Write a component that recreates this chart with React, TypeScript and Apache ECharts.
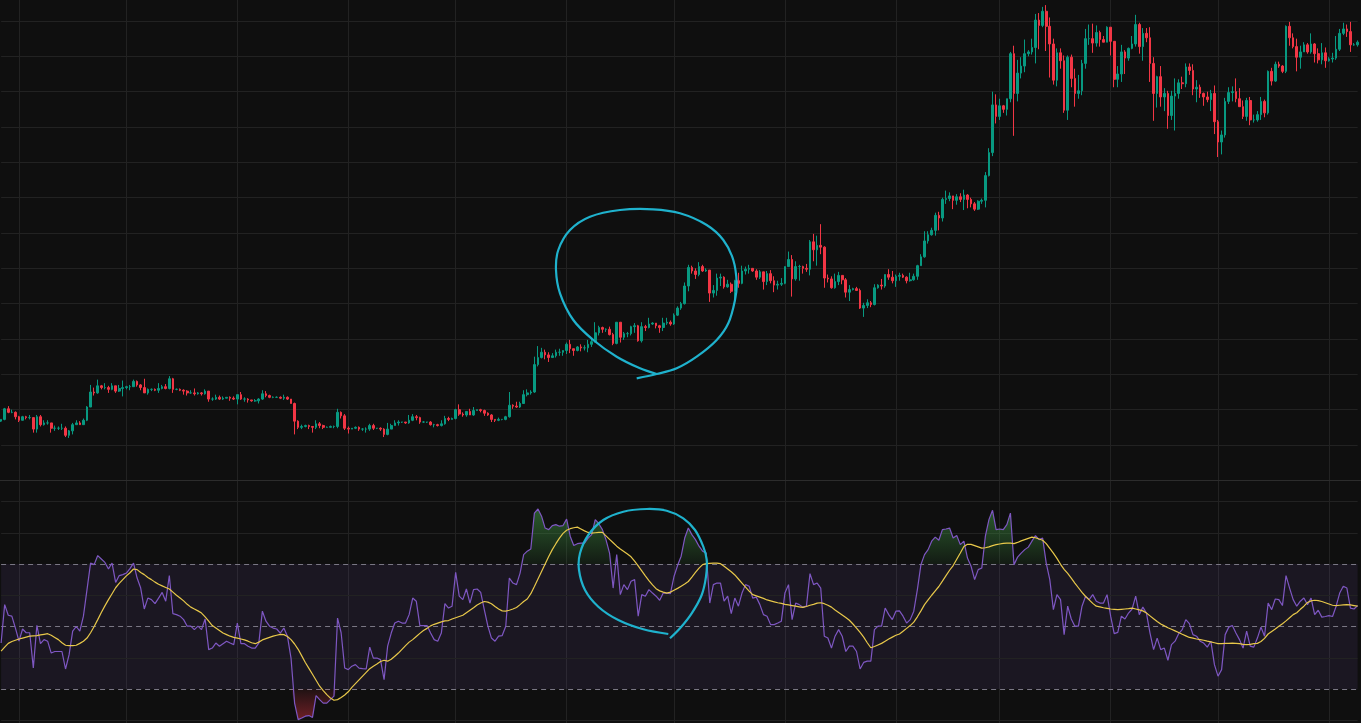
import React, { useEffect, useRef } from "react";
import * as echarts from "echarts";

// ---- data (BTC daily, thousands USD) ----
const startDate = "2023-05-27";
const firstOpen = 26.7;

const closes = [
  26.9, 28.1, 27.7, 27.7, 27.2, 26.8, 27.2, 27.1, 27.1, 25.8,
  27.2, 26.3, 26.5, 26.5, 25.9, 25.9, 25.9, 25.9, 25.1, 25.6,
  26.3, 26.5, 26.3, 26.8, 28.3, 30.0, 29.9, 30.7, 30.5, 30.5,
  30.3, 30.7, 30.1, 30.4, 30.5, 30.6, 30.6, 31.2, 30.8, 30.5,
  29.9, 30.3, 30.3, 30.2, 30.4, 30.6, 30.4, 31.5, 30.3, 30.3,
  30.2, 30.1, 29.9, 29.9, 29.8, 29.9, 29.8, 30.1, 29.2, 29.2,
  29.4, 29.2, 29.3, 29.4, 29.3, 29.2, 29.7, 29.2, 29.2, 29.1,
  29.0, 29.0, 29.2, 29.8, 29.6, 29.4, 29.4, 29.4, 29.3, 29.4,
  29.2, 28.7, 26.7, 26.0, 26.1, 26.2, 26.1, 26.0, 26.4, 26.2,
  26.0, 26.0, 26.1, 26.1, 27.7, 27.3, 25.9, 25.8, 25.9, 26.0,
  25.8, 25.8, 25.8, 26.2, 25.9, 25.9, 25.8, 25.2, 25.8, 26.2,
  26.5, 26.6, 26.6, 26.5, 26.8, 27.2, 27.1, 26.6, 26.6, 26.6,
  26.3, 26.3, 26.2, 26.4, 27.0, 26.9, 27.0, 28.0, 27.5, 27.4,
  27.8, 27.4, 27.9, 28.0, 27.9, 27.6, 27.4, 26.9, 26.8, 26.9,
  26.9, 27.2, 28.5, 28.4, 28.3, 28.7, 29.7, 29.9, 30.0, 33.1,
  33.9, 34.5, 34.2, 33.9, 34.1, 34.5, 34.5, 34.7, 35.4, 34.9,
  34.7, 35.1, 35.0, 35.0, 35.4, 35.7, 36.7, 37.3, 37.1, 37.1,
  36.5, 35.5, 37.9, 36.2, 36.6, 36.6, 37.4, 37.5, 35.8, 37.4,
  37.3, 37.7, 37.8, 37.5, 37.3, 37.8, 37.9, 37.7, 38.7, 39.5,
  40.0, 42.0, 44.1, 43.7, 43.3, 44.2, 43.7, 43.8, 41.2, 41.5,
  42.9, 43.0, 41.9, 42.2, 41.4, 42.6, 42.3, 43.7, 43.9, 44.0,
  43.7, 43.0, 43.6, 42.5, 43.4, 42.6, 42.1, 42.2, 42.3, 44.2,
  45.0, 42.8, 44.2, 44.2, 44.0, 43.9, 47.0, 46.1, 46.6, 46.4,
  42.9, 42.8, 41.8, 42.5, 43.2, 42.7, 41.3, 41.6, 41.7, 41.5,
  39.5, 39.8, 40.1, 39.9, 41.8, 42.1, 42.0, 43.3, 43.0, 42.6,
  43.1, 43.2, 43.0, 42.6, 42.7, 43.1, 44.3, 45.3, 47.1, 47.8,
  48.3, 50.0, 49.7, 51.8, 51.9, 52.2, 51.7, 52.1, 51.8, 52.3,
  51.8, 51.3, 50.7, 51.6, 51.7, 54.5, 57.1, 62.5, 61.2, 62.4,
  62.0, 63.2, 68.3, 63.8, 66.1, 66.9, 68.3, 68.5, 69.0, 72.1,
  71.5, 73.1, 71.4, 69.4, 65.3, 68.4, 67.5, 61.9, 67.9, 65.5,
  63.8, 64.1, 67.2, 70.0, 70.0, 69.5, 70.7, 69.9, 69.6, 71.3,
  69.7, 65.4, 66.0, 68.5, 67.8, 68.9, 69.4, 71.6, 69.1, 70.6,
  70.1, 67.2, 63.8, 65.7, 63.4, 63.8, 61.3, 63.5, 63.8, 65.0,
  64.9, 66.8, 66.4, 64.3, 64.5, 63.8, 63.4, 63.1, 63.8, 60.6,
  58.3, 59.1, 62.9, 63.9, 64.0, 63.2, 62.3, 61.2, 63.0, 60.8,
  60.8, 61.4, 62.9, 61.6, 66.3, 65.2, 67.1, 66.9, 66.3, 71.4,
  70.1, 69.1, 67.9, 68.5, 69.3, 68.5, 69.4, 68.3, 67.6, 68.4,
  67.5, 67.7, 67.8, 68.8, 70.6, 71.1, 70.8, 69.3, 69.3, 69.6,
];

const highs = [
  26.9, 28.2, 28.4, 28.0, 27.8, 27.3, 27.3, 27.3, 27.4, 27.1,
  27.4, 27.4, 26.8, 26.8, 26.5, 26.2, 26.1, 26.4, 26.1, 25.7,
  26.5, 26.8, 26.7, 27.0, 28.4, 30.8, 30.5, 31.4, 30.8, 31.0,
  30.7, 31.0, 30.7, 30.8, 31.3, 30.7, 30.8, 31.4, 31.3, 30.9,
  31.5, 30.4, 30.4, 30.4, 31.0, 30.8, 30.9, 31.8, 31.6, 30.4,
  30.4, 30.3, 30.2, 30.2, 30.4, 30.0, 30.0, 30.3, 30.1, 29.4,
  29.7, 29.6, 29.5, 29.4, 29.5, 29.5, 29.7, 30.0, 29.4, 29.3,
  29.1, 29.2, 29.3, 30.2, 30.1, 29.7, 29.5, 29.5, 29.5, 29.7,
  29.5, 29.2, 28.8, 26.8, 26.3, 26.3, 26.3, 26.1, 26.8, 26.6,
  26.3, 26.1, 26.2, 26.2, 28.1, 27.8, 27.5, 26.1, 25.9, 26.1,
  26.1, 25.9, 26.0, 26.4, 26.4, 25.9, 26.0, 25.9, 26.5, 26.4,
  26.8, 26.8, 26.6, 26.6, 27.4, 27.5, 27.4, 27.2, 26.7, 26.6,
  26.7, 26.4, 26.4, 26.8, 27.3, 27.2, 27.1, 28.1, 28.6, 27.7,
  27.8, 28.1, 28.3, 28.0, 28.1, 28.0, 27.7, 27.5, 26.9, 27.1,
  26.9, 27.3, 30.0, 28.6, 28.9, 28.9, 30.2, 30.3, 30.2, 34.0,
  35.2, 35.0, 34.8, 34.5, 34.4, 34.8, 34.9, 34.7, 35.6, 35.9,
  34.9, 35.2, 35.4, 35.3, 35.9, 36.0, 37.9, 37.5, 37.4, 37.2,
  37.4, 36.7, 37.9, 37.9, 36.8, 36.8, 37.5, 37.8, 37.6, 37.9,
  37.6, 38.4, 37.9, 37.8, 37.6, 38.4, 38.4, 38.1, 38.9, 39.7,
  40.2, 42.4, 44.4, 44.3, 44.0, 44.7, 44.4, 44.0, 43.8, 42.1,
  43.4, 43.4, 43.1, 42.7, 42.4, 42.7, 43.5, 44.3, 44.2, 44.4,
  44.0, 43.9, 43.8, 43.6, 43.7, 43.8, 43.1, 42.6, 42.9, 44.2,
  45.9, 45.5, 44.8, 44.4, 44.3, 44.5, 47.2, 47.9, 47.7, 49.0,
  46.5, 43.3, 43.1, 43.4, 43.6, 43.2, 42.9, 42.1, 41.8, 41.9,
  41.7, 40.1, 40.5, 40.3, 42.2, 42.2, 42.8, 43.3, 43.9, 43.7,
  43.3, 43.5, 43.4, 43.1, 43.5, 43.4, 44.4, 45.6, 48.2, 48.2,
  48.6, 50.3, 50.4, 52.0, 52.8, 52.6, 52.2, 52.4, 52.5, 52.9,
  52.4, 52.0, 51.5, 51.7, 51.9, 54.9, 57.6, 64.0, 63.7, 63.2,
  62.5, 63.2, 68.5, 69.2, 67.6, 67.9, 69.9, 68.7, 70.0, 72.8,
  72.9, 73.6, 73.8, 72.4, 70.0, 68.9, 68.9, 68.1, 68.1, 68.2,
  66.6, 65.9, 67.6, 71.1, 71.6, 71.7, 71.5, 70.9, 70.3, 71.4,
  71.3, 69.7, 66.9, 69.3, 68.7, 69.0, 70.3, 72.7, 71.8, 71.2,
  71.2, 71.3, 67.9, 65.8, 66.9, 64.4, 64.1, 64.1, 65.5, 65.4,
  65.7, 67.2, 67.2, 67.1, 65.3, 64.8, 63.9, 64.0, 64.2, 64.7,
  60.8, 59.6, 63.3, 64.5, 64.6, 65.5, 64.4, 63.0, 63.3, 63.4,
  61.4, 61.8, 63.4, 63.1, 66.4, 66.7, 67.4, 67.4, 67.0, 71.5,
  71.9, 70.6, 70.0, 69.2, 69.6, 69.5, 70.6, 69.5, 68.9, 69.5,
  69.0, 67.9, 68.4, 70.3, 71.1, 71.8, 71.6, 71.9, 69.5, 69.8,
];

const lows = [
  26.6, 26.8, 27.6, 27.6, 26.9, 26.6, 26.8, 26.9, 26.9, 25.4,
  25.4, 26.1, 26.2, 26.3, 25.4, 25.6, 25.7, 25.7, 24.9, 24.8,
  25.2, 26.3, 26.3, 26.3, 26.7, 28.3, 29.6, 29.8, 30.3, 30.3,
  29.9, 30.2, 29.9, 30.0, 29.5, 30.3, 30.2, 30.6, 30.6, 30.2,
  29.9, 29.7, 30.1, 30.1, 29.9, 30.3, 30.3, 30.3, 29.9, 30.2,
  30.1, 29.7, 29.6, 29.8, 29.6, 29.7, 29.6, 29.7, 28.9, 29.0,
  29.1, 29.1, 29.1, 29.3, 29.0, 29.1, 28.6, 29.1, 28.9, 28.8,
  28.9, 28.9, 28.7, 29.1, 29.4, 29.3, 29.3, 29.4, 29.2, 29.1,
  29.1, 28.7, 25.2, 25.8, 25.8, 26.0, 25.8, 25.4, 25.8, 25.9,
  25.8, 26.0, 26.0, 25.9, 25.9, 27.0, 25.7, 25.3, 25.8, 25.8,
  25.6, 25.6, 25.4, 25.6, 25.7, 25.8, 25.6, 24.9, 25.1, 25.8,
  26.2, 26.2, 26.5, 26.4, 26.4, 26.7, 26.8, 26.4, 26.5, 26.5,
  26.2, 26.0, 26.1, 26.1, 26.3, 26.7, 26.9, 26.9, 27.3, 27.2,
  27.2, 27.4, 27.3, 27.9, 27.7, 27.3, 27.3, 26.6, 26.6, 26.7,
  26.8, 26.8, 27.1, 28.1, 28.2, 28.2, 28.7, 29.5, 29.7, 29.9,
  32.9, 33.8, 33.7, 33.4, 33.9, 33.9, 34.1, 34.1, 34.3, 34.4,
  34.1, 34.6, 34.6, 34.7, 34.5, 35.1, 35.6, 36.4, 36.7, 36.8,
  36.4, 35.3, 35.4, 35.6, 35.9, 36.2, 36.4, 36.7, 35.7, 35.6,
  36.9, 37.2, 37.6, 37.2, 36.7, 36.9, 37.6, 37.5, 37.6, 38.6,
  39.3, 39.9, 41.4, 43.4, 42.8, 43.1, 43.6, 43.6, 40.2, 40.7,
  40.9, 42.0, 41.7, 41.8, 41.2, 40.5, 41.8, 42.2, 43.3, 43.4,
  43.6, 42.7, 42.8, 41.6, 42.1, 42.3, 41.3, 41.6, 42.0, 42.2,
  44.2, 40.8, 42.6, 42.6, 43.4, 43.6, 43.2, 44.8, 44.3, 45.6,
  41.8, 42.4, 41.7, 41.7, 42.1, 42.2, 40.7, 40.3, 41.5, 41.5,
  39.4, 38.5, 39.5, 39.6, 39.8, 41.7, 41.6, 41.8, 42.7, 42.3,
  41.9, 42.6, 42.9, 42.3, 42.5, 42.6, 42.7, 44.3, 45.2, 46.8,
  47.7, 47.7, 48.3, 49.3, 51.3, 51.6, 50.7, 51.2, 51.5, 50.6,
  50.8, 50.9, 50.5, 50.6, 51.3, 50.9, 54.4, 56.7, 60.4, 60.8,
  61.6, 61.3, 62.8, 59.0, 62.9, 65.5, 66.2, 68.0, 68.2, 67.2,
  68.8, 71.3, 68.6, 65.6, 64.8, 64.6, 66.6, 61.6, 60.8, 64.5,
  62.3, 63.2, 63.6, 66.6, 69.3, 68.4, 69.1, 69.1, 69.6, 69.6,
  68.1, 64.5, 64.5, 65.1, 66.0, 67.5, 68.8, 69.1, 68.3, 67.5,
  69.6, 65.1, 60.7, 62.2, 62.3, 61.8, 59.8, 60.8, 59.6, 63.2,
  64.3, 64.5, 65.9, 63.6, 62.8, 63.3, 62.4, 62.8, 61.8, 59.2,
  56.6, 56.9, 58.8, 62.6, 62.9, 62.8, 62.3, 60.9, 60.7, 60.2,
  60.5, 60.6, 60.8, 61.1, 61.4, 64.7, 65.1, 66.7, 66.1, 66.1,
  69.2, 68.9, 66.3, 66.6, 68.5, 68.3, 68.3, 67.3, 67.2, 67.1,
  66.7, 67.4, 67.3, 67.6, 68.6, 70.4, 70.2, 68.5, 69.2, 69.1,
];

const rsi = [
  44.7, 57.0, 53.6, 53.3, 49.5, 45.3, 49.2, 48.0, 48.0, 36.7,
  50.4, 44.5, 45.8, 45.3, 41.5, 42.0, 42.0, 42.0, 36.4, 41.0,
  48.5, 50.0, 48.5, 53.3, 61.8, 70.3, 69.8, 72.7, 71.6, 70.5,
  68.4, 70.3, 64.1, 66.3, 66.6, 67.1, 68.5, 70.3, 65.5, 62.3,
  55.6, 59.1, 58.6, 57.3, 59.1, 60.9, 58.1, 66.3, 54.1, 53.8,
  53.3, 52.2, 50.1, 50.1, 49.0, 50.1, 49.0, 52.4, 42.6, 43.1,
  44.7, 43.7, 44.5, 45.3, 44.7, 44.2, 51.1, 44.5, 44.5, 43.7,
  43.1, 43.1, 44.7, 54.9, 51.7, 50.1, 49.5, 49.2, 47.9, 49.5,
  46.9, 39.9, 25.5, 20.2, 20.7, 21.3, 21.5, 20.9, 27.9, 26.6,
  25.5, 25.5, 26.6, 27.7, 52.7, 48.0, 36.7, 36.2, 37.3, 37.8,
  36.7, 36.5, 36.4, 43.4, 39.9, 39.9, 39.4, 33.0, 43.7, 47.9,
  51.1, 51.7, 51.1, 51.1, 53.8, 59.1, 58.1, 50.3, 50.3, 50.3,
  47.9, 45.8, 45.3, 47.9, 57.3, 55.9, 56.5, 67.3, 59.7, 58.6,
  62.0, 57.5, 61.8, 62.0, 60.9, 55.4, 50.1, 46.3, 45.3, 46.9,
  47.1, 50.1, 65.5, 63.9, 63.4, 67.1, 73.0, 74.1, 74.8, 86.3,
  87.6, 85.3, 81.5, 81.0, 82.3, 82.6, 82.1, 82.3, 84.4, 78.9,
  75.9, 76.5, 76.7, 76.7, 78.3, 79.4, 84.2, 82.9, 81.0, 77.8,
  73.5, 62.3, 73.0, 60.2, 63.4, 61.8, 64.5, 65.0, 53.3, 60.2,
  59.7, 61.8, 60.7, 59.7, 58.4, 60.7, 60.7, 60.5, 66.0, 69.5,
  72.5, 78.3, 81.5, 79.4, 77.8, 75.7, 74.1, 73.5, 57.5, 63.4,
  63.9, 63.9, 58.1, 59.7, 54.1, 59.1, 56.5, 60.7, 63.4, 62.9,
  59.1, 59.4, 57.0, 53.8, 53.3, 50.6, 50.6, 51.1, 51.7, 60.7,
  63.4, 52.2, 57.5, 57.0, 56.2, 56.5, 66.9, 63.4, 63.9, 62.3,
  46.9, 46.3, 43.1, 46.9, 49.0, 46.9, 42.0, 43.7, 43.7, 42.0,
  36.4, 38.5, 38.9, 38.9, 49.0, 50.1, 50.1, 55.9, 53.8, 52.2,
  54.9, 55.0, 53.3, 51.1, 52.2, 54.9, 61.8, 69.8, 73.0, 74.6,
  77.3, 78.6, 77.6, 81.0, 81.2, 81.5, 78.3, 79.1, 76.2, 77.3,
  71.9, 69.3, 65.0, 68.2, 68.7, 78.9, 84.2, 87.2, 81.0, 81.2,
  81.0, 82.6, 86.3, 69.8, 72.2, 73.5, 74.6, 75.4, 77.3, 79.1,
  77.8, 78.3, 70.3, 65.0, 55.4, 60.2, 58.6, 47.4, 56.5, 52.4,
  50.1, 50.1, 56.5, 59.7, 58.6, 60.2, 58.1, 57.5, 57.5, 60.2,
  53.3, 47.7, 48.1, 53.3, 52.4, 54.3, 55.6, 59.7, 53.8, 56.2,
  54.3, 47.9, 42.6, 46.3, 42.6, 43.1, 39.2, 44.2, 45.3, 47.7,
  49.0, 52.2, 50.9, 47.4, 46.9, 45.3, 44.7, 43.4, 45.3, 37.8,
  34.1, 36.2, 47.4, 49.8, 50.3, 47.9, 45.8, 43.1, 48.5, 43.7,
  43.4, 46.3, 49.8, 46.9, 57.5, 55.4, 58.8, 58.6, 56.7, 66.3,
  62.3, 58.6, 56.5, 58.1, 59.1, 57.0, 59.1, 53.8, 55.2, 53.0,
  53.2, 53.5, 53.2, 56.5, 60.7, 62.9, 62.3, 55.9, 55.6, 56.7,
];

const rsiMa = [
  42.1, 43.4, 44.6, 45.2, 45.6, 46.0, 46.3, 46.6, 46.9, 47.0,
  47.1, 47.3, 47.5, 47.7, 47.2, 46.5, 45.8, 44.8, 44.0, 43.9,
  43.9, 44.0, 44.6, 45.3, 46.3, 48.0, 50.0, 52.2, 54.5, 56.6,
  58.6, 60.5, 62.4, 63.8, 65.0, 66.2, 67.2, 68.4, 68.2, 67.3,
  66.6, 65.7, 65.0, 64.2, 63.5, 63.0, 62.5, 62.0, 61.0, 60.0,
  59.1, 58.2, 57.1, 56.2, 55.6, 55.0, 54.3, 53.1, 51.7, 50.3,
  49.5, 48.7, 47.9, 47.4, 46.9, 46.5, 46.3, 46.0, 45.7, 45.3,
  44.8, 44.5, 45.0, 45.7, 46.1, 46.5, 46.9, 47.2, 47.5, 47.4,
  46.8, 45.8, 44.4, 42.7, 40.6, 38.5, 36.6, 34.7, 32.8, 30.9,
  29.5, 28.2, 27.1, 26.4, 26.6, 27.3, 28.1, 29.1, 30.5, 31.7,
  32.9, 34.1, 35.3, 36.5, 37.3, 38.0, 38.8, 39.2, 38.9, 39.5,
  40.5, 41.5, 42.7, 43.9, 45.0, 45.8, 46.8, 47.8, 48.7, 49.4,
  50.2, 50.7, 51.1, 51.5, 51.8, 51.9, 52.4, 52.8, 53.2, 53.6,
  54.4, 55.2, 56.0, 56.9, 57.5, 58.0, 57.8, 57.3, 56.4, 55.6,
  55.0, 54.9, 55.2, 55.6, 56.1, 57.0, 58.0, 58.8, 60.5, 62.8,
  65.2, 67.6, 70.0, 72.4, 74.6, 76.5, 78.3, 79.8, 80.8, 81.3,
  81.6, 81.8, 81.2, 80.6, 80.1, 79.9, 80.0, 80.1, 80.1, 79.0,
  77.9, 76.8, 75.7, 74.8, 74.0, 73.2, 72.3, 70.9, 69.4, 67.8,
  66.2, 64.7, 63.3, 62.1, 61.4, 61.0, 60.7, 61.0, 61.6, 62.2,
  62.9, 63.6, 64.4, 65.8, 67.3, 68.7, 69.8, 70.1, 70.2, 70.3,
  70.3, 70.1, 69.3, 68.4, 67.5, 66.5, 65.2, 63.9, 62.6, 61.3,
  60.2, 59.8, 59.4, 59.0, 58.5, 58.2, 57.9, 57.6, 57.4, 57.1,
  56.9, 56.7, 56.5, 56.3, 56.1, 56.4, 56.8, 57.1, 57.5, 57.6,
  57.3, 56.8, 56.2, 55.3, 54.5, 53.7, 52.9, 52.0, 50.8, 49.5,
  48.1, 46.6, 44.8, 43.2, 43.6, 44.1, 44.6, 45.3, 46.0, 46.6,
  47.2, 47.6, 48.5, 49.4, 50.3, 51.4, 53.1, 55.0, 57.0, 58.5,
  60.0, 61.4, 62.8, 64.5, 66.3, 68.0, 69.5, 71.5, 73.5, 75.6,
  76.3, 76.3, 75.9, 75.5, 75.1, 75.2, 75.5, 75.9, 76.2, 76.4,
  76.6, 76.7, 76.7, 76.5, 76.9, 77.4, 77.8, 78.2, 78.6, 78.4,
  78.0, 77.6, 76.5, 75.0, 73.5, 71.8, 69.9, 68.3, 67.0, 65.5,
  63.9, 62.4, 60.9, 59.6, 58.5, 57.4, 56.5, 56.3, 56.0, 55.8,
  55.6, 55.5, 55.4, 55.5, 55.6, 55.7, 55.9, 55.6, 55.3, 55.0,
  54.3, 53.4, 52.5, 51.6, 50.8, 50.2, 49.6, 49.1, 48.6, 48.1,
  47.5, 47.0, 46.5, 46.3, 46.0, 45.8, 45.6, 45.3, 45.1, 44.8,
  44.5, 44.5, 44.6, 44.6, 44.7, 44.6, 44.5, 44.3, 44.2, 44.3,
  44.5, 44.6, 45.2, 46.2, 47.6, 48.4, 49.2, 50.1, 50.9, 51.8,
  52.8, 53.8, 54.4, 55.5, 56.5, 57.7, 58.2, 58.4, 58.3, 58.0,
  57.6, 57.2, 56.8, 56.7, 56.8, 56.9, 57.0, 56.9, 56.7, 56.5,
];

const priceGridLevels = [24, 28, 32, 36, 40, 44, 48, 52, 56, 60, 64, 68, 72];
const rsiGridLevels = [20, 40, 60, 80, 90];
const rsiBandLevels = [30, 50, 70];
const overbought = 70;
const oversold = 30;

// hand-drawn annotation loops (page pixel coordinates)
const loopPrice = [
  [636.7, 378.3], [656.7, 374], [676.7, 368.3], [696.7, 356.7], [716.7, 340],
  [728.3, 323.3], [735, 300], [736.7, 283.3], [733.3, 260], [723.3, 240],
  [706.7, 225], [680, 213.3], [653.3, 209.3], [620, 210], [590, 216.7],
  [570, 230], [558.3, 250], [556, 270], [560, 293.3], [573.3, 320],
  [593.3, 340], [616.7, 356.7], [640, 368.3], [656.7, 374],
];
const loopRsi = [
  [670, 638.3], [680, 628.3], [691.7, 613.3], [701.7, 595], [706, 576.7],
  [706.7, 560], [703.3, 546.7], [695, 530], [683.3, 518.3], [666.7, 510.7],
  [646.7, 509], [623.3, 511.7], [603.3, 520], [588.3, 535], [580, 553.3],
  [579, 570], [585, 590], [598.3, 606.7], [618.3, 620], [643.3, 629.3],
  [668.3, 634],
];

function makeDates(start: string, n: number): string[] {
  const out: string[] = [];
  const d = new Date(start + "T00:00:00Z");
  for (let i = 0; i < n; i++) {
    out.push(d.toISOString().slice(0, 10));
    d.setUTCDate(d.getUTCDate() + 1);
  }
  return out;
}

const UP = "#089981";
const DOWN = "#f23645";
const GRID = "#222222";

export default function App() {
  const ref = useRef<HTMLDivElement>(null);

  useEffect(() => {
    if (!ref.current) return;
    const chart = echarts.init(ref.current, null, { renderer: "svg" });
    const dates = makeDates(startDate, closes.length);
    const candles = closes.map((c, i) => {
      const o = i === 0 ? firstOpen : closes[i - 1];
      const h = Math.max(highs[i], o, c);
      const l = Math.min(lows[i], o, c);
      return [o, c, l, h];
    });

    const xAxisBase = (gi: number) => ({
      type: "category",
      gridIndex: gi,
      data: dates,
      boundaryGap: false,
      axisLine: { show: false },
      axisTick: { show: false },
      axisLabel: { show: false },
      splitLine: {
        show: true,
        interval: (_i: number, v: string) => v.endsWith("-01"),
        lineStyle: { color: GRID, width: 1 },
      },
    });
    const hiddenY = {
      axisLine: { show: false },
      axisTick: { show: false },
      axisLabel: { show: false },
      splitLine: { show: false },
    };

    const option: any = {
      animation: false,
      backgroundColor: "#0f0f0f",
      grid: [
        { left: 1.1, right: 3.4, top: 0, height: 481 },
        { left: 1.1, right: 3.4, top: 481, height: 242 },
      ],
      xAxis: [xAxisBase(0), xAxisBase(1)],
      yAxis: [
        { type: "value", gridIndex: 0, min: 19.925, max: 74.377, ...hiddenY },
        { type: "value", gridIndex: 1, min: 19.12, max: 96.56, ...hiddenY },
      ],
      series: [
        {
          type: "candlestick",
          xAxisIndex: 0,
          yAxisIndex: 0,
          data: candles,
          barWidth: 2.1,
          z: 3,
          itemStyle: {
            color: UP,
            color0: DOWN,
            borderColor: UP,
            borderColor0: DOWN,
            borderWidth: 1,
          },
          markLine: {
            silent: true,
            z: 1,
            symbol: ["none", "none"],
            label: { show: false },
            lineStyle: { color: GRID, width: 1, type: "solid" },
            data: priceGridLevels.map((v) => ({ yAxis: v })),
          },
        },
        {
          type: "line",
          name: "ob",
          xAxisIndex: 1,
          yAxisIndex: 1,
          data: rsi.map((v) => Math.max(v, overbought)),
          symbol: "none",
          z: 2,
          lineStyle: { width: 0, opacity: 0 },
          areaStyle: {
            origin: overbought,
            color: {
              type: "linear", x: 0, y: 0, x2: 0, y2: 1,
              colorStops: [
                { offset: 0, color: "rgba(67,160,71,0.75)" },
                { offset: 1, color: "rgba(67,160,71,0.12)" },
              ],
            },
          },
          markArea: {
            silent: true,
            z: 0,
            itemStyle: { color: "rgba(126,87,194,0.11)" },
            data: [[{ yAxis: oversold }, { yAxis: overbought }]],
          },
          markLine: {
            silent: true,
            z: 1,
            symbol: ["none", "none"],
            label: { show: false },
            data: [
              ...rsiGridLevels.map((v) => ({
                yAxis: v,
                lineStyle: { color: GRID, width: 1, type: "solid" },
              })),
              ...rsiBandLevels.map((v) => ({
                yAxis: v,
                lineStyle: { color: "#7a7784", width: 1, type: [5, 4] },
              })),
            ],
          },
        },
        {
          type: "line",
          name: "os",
          xAxisIndex: 1,
          yAxisIndex: 1,
          data: rsi.map((v) => Math.min(v, oversold)),
          symbol: "none",
          z: 2,
          lineStyle: { width: 0, opacity: 0 },
          areaStyle: {
            origin: oversold,
            color: {
              type: "linear", x: 0, y: 0, x2: 0, y2: 1,
              colorStops: [
                { offset: 0, color: "rgba(242,54,69,0.1)" },
                { offset: 1, color: "rgba(242,54,69,0.6)" },
              ],
            },
          },
        },
        {
          type: "line",
          name: "RSI",
          xAxisIndex: 1,
          yAxisIndex: 1,
          data: rsi,
          symbol: "none",
          z: 4,
          lineStyle: { color: "#7e57c2", width: 1.2 },
        },
        {
          type: "line",
          name: "RSI MA",
          xAxisIndex: 1,
          yAxisIndex: 1,
          data: rsiMa,
          symbol: "none",
          z: 5,
          lineStyle: { color: "#e8c84a", width: 1.2 },
        },
      ],
      graphic: [
        {
          type: "line",
          z: 10,
          silent: true,
          shape: { x1: 0, y1: 480.5, x2: 1361, y2: 480.5 },
          style: { stroke: "#2c2c2c", lineWidth: 1 },
        },
        {
          type: "polyline",
          z: 20,
          silent: true,
          shape: { points: loopPrice, smooth: 0.35 },
          style: { stroke: "#1fb2cd", lineWidth: 2.2, fill: null },
        },
        {
          type: "polyline",
          z: 20,
          silent: true,
          shape: { points: loopRsi, smooth: 0.35 },
          style: { stroke: "#1fb2cd", lineWidth: 2.2, fill: null },
        },
      ],
    };

    chart.setOption(option);
    return () => chart.dispose();
  }, []);

  return (
    <div
      ref={ref}
      style={{
        position: "fixed",
        left: 0,
        top: 0,
        width: 1361,
        height: 723,
        background: "#0f0f0f",
      }}
    />
  );
}
